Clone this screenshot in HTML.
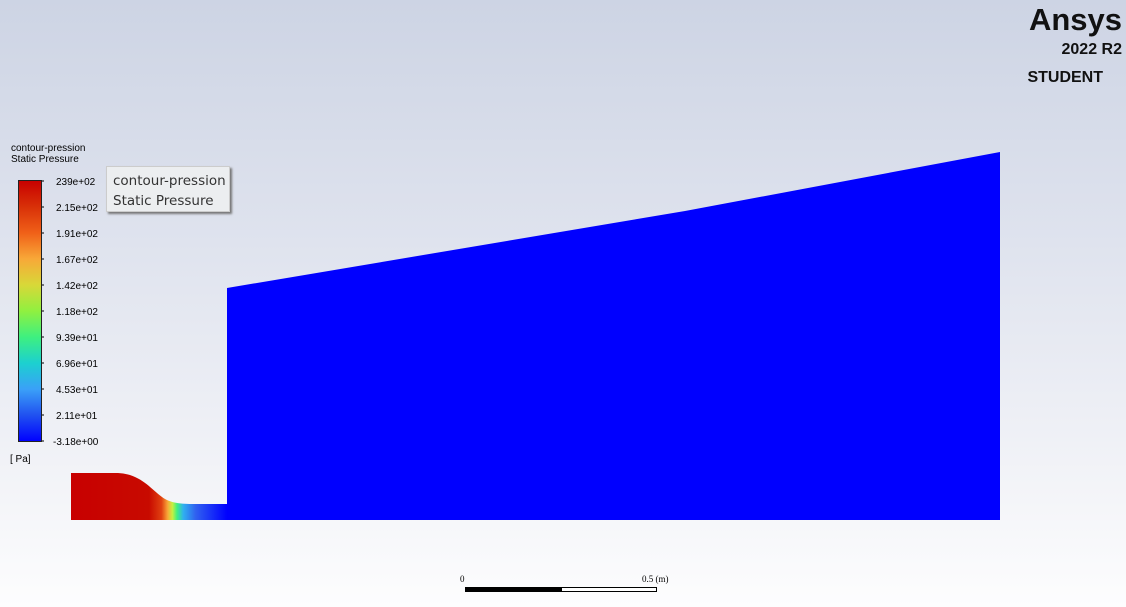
<!DOCTYPE html>
<html><head><meta charset="utf-8"><style>
html,body{margin:0;padding:0}
body{width:1126px;height:607px;overflow:hidden;background:linear-gradient(#cdd4e4 0%,#dfe3ee 40%,#f3f4f8 80%,#fdfdfe 100%);font-family:"Liberation Sans",sans-serif;position:relative}
.t{position:absolute;font-size:10px;color:#000}
</style></head><body>
<svg width="1126" height="607" style="position:absolute;left:0;top:0">
<defs>
<linearGradient id="cb" x1="0" y1="1" x2="0" y2="0">
<stop offset="0" stop-color="#0000ff"/><stop offset="0.1" stop-color="#2050f0"/><stop offset="0.2" stop-color="#3aa0f8"/><stop offset="0.3" stop-color="#1cd0d0"/><stop offset="0.4" stop-color="#3ef080"/><stop offset="0.5" stop-color="#90f040"/><stop offset="0.6" stop-color="#d8d838"/><stop offset="0.7" stop-color="#f8a838"/><stop offset="0.8" stop-color="#f06018"/><stop offset="0.9" stop-color="#d83008"/><stop offset="1" stop-color="#c80000"/>
</linearGradient>
<linearGradient id="nz" x1="71" y1="0" x2="227" y2="0" gradientUnits="userSpaceOnUse">
<stop offset="0" stop-color="#c80000"/><stop offset="0.5" stop-color="#c80a00"/><stop offset="0.58" stop-color="#e04010"/><stop offset="0.62" stop-color="#f8a838"/><stop offset="0.65" stop-color="#c8f040"/><stop offset="0.68" stop-color="#40f080"/><stop offset="0.72" stop-color="#30b0f0"/><stop offset="0.8" stop-color="#3060f0"/><stop offset="1" stop-color="#0000ff"/>
</linearGradient>
</defs>
<path d="M71,473 L118,473 C140,474 150,488 162,497 C170,503 180,504 195,504 L227,504 L227,520 L71,520 Z" fill="url(#nz)"/>
<polygon points="227,288 685,211 1000,152 1000,520 227,520" fill="#0000ff"/>
<rect x="18.5" y="180.5" width="23" height="261" fill="url(#cb)" stroke="#222" stroke-width="1"/>
<g id="ticks"></g>
<g>
<rect x="465" y="587" width="96" height="5" fill="#000"/>
<rect x="561.5" y="587.5" width="95" height="4" fill="#fff" stroke="#000"/>
<text x="460" y="582" font-family="Liberation Serif" font-size="9">0</text>
<text x="642" y="582" font-family="Liberation Serif" font-size="9">0.5 (m)</text>
</g>
</svg>
<div class="t" style="left:11px;top:143px">contour-pression<br>Static Pressure</div>
<div class="t" style="left:10px;top:454px">[ Pa]</div>
<div id="labels"></div>
<div style="position:absolute;left:106px;top:166px;width:124px;height:46px;background:#eceef0;border:1px solid #ccc;box-shadow:2px 2px 2px #777;font-family:'DejaVu Sans',sans-serif;font-size:13.5px;color:#333;line-height:20px;padding:4px 0 0 6px;box-sizing:border-box">contour-pression<br>Static Pressure</div>
<div style="position:absolute;left:1000px;width:122px;top:0;text-align:right;font-weight:bold;color:#111">
<div style="font-size:31px;line-height:40px;margin-top:0px">Ansys</div>
<div style="font-size:16px;line-height:20px">2022 R2</div>
<div style="font-size:16px;line-height:36px;margin-right:19px">STUDENT</div>
</div>
<script>
const tickLabels=["239e+02","2.15e+02","1.91e+02","1.67e+02","1.42e+02","1.18e+02","9.39e+01","6.96e+01","4.53e+01","2.11e+01","-3.18e+00"];
const top0=181,bot=441;
const g=document.getElementById('ticks'),L=document.getElementById('labels');
tickLabels.forEach((s,i)=>{
 const y=top0+(bot-top0)*i/(tickLabels.length-1);
 const r=document.createElementNS('http://www.w3.org/2000/svg','rect');
 r.setAttribute('x',42);r.setAttribute('y',y-0.5);r.setAttribute('width',2);r.setAttribute('height',1);r.setAttribute('fill','#000');
 
 
 g.appendChild(r);
 const d=document.createElement('div');d.className='t';d.style.left=(i==10?53:56)+'px';d.style.top=(y-4)+'px';d.textContent=s;
 
 
 L.appendChild(d);
});
</script>
</body></html>
